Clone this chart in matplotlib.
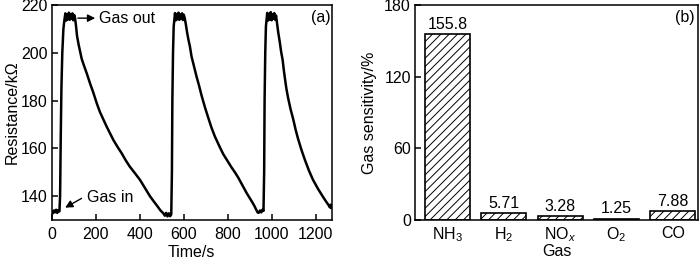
import matplotlib
matplotlib.use("Agg")
import matplotlib.pyplot as plt

plt.rcParams['font.family'] = ['Liberation Sans', 'DejaVu Sans']
plt.rcParams['mathtext.fontset'] = 'custom'
plt.rcParams['mathtext.rm'] = 'Liberation Sans'
plt.rcParams['mathtext.it'] = 'Liberation Sans:italic'
plt.rcParams['hatch.linewidth'] = 0.7
FS = 11.5
plt.rcParams['font.size'] = FS

# ---- panel (a): resistance response ----
time_s = [0, 5, 10, 15, 20, 25, 30, 35,
          38, 41, 44, 48, 53, 58,
          62, 66, 70, 74, 78, 82, 86, 90, 94, 98, 102, 106,
          110, 115, 122, 130, 136, 147, 159, 174, 189, 204, 219, 235, 250, 265,
          280, 299, 318, 336, 355, 378, 401, 423, 446, 465, 480, 494, 507,
          514, 520, 526, 532, 538, 543,
          546, 548, 551, 554, 557,
          560, 564, 568, 572, 576, 580, 584, 588, 592, 596, 600, 604,
          610, 615, 621, 628, 635, 646, 658, 670, 681, 696, 711, 726, 741, 760,
          779, 798, 817, 832, 847, 860, 873, 886, 898, 910, 920, 928, 935,
          940, 946, 952, 958, 962,
          965, 967, 970, 973, 976,
          979, 983, 987, 991, 995, 999, 1003, 1007, 1011, 1015, 1019,
          1024, 1029, 1036, 1042, 1049, 1054, 1059, 1066, 1074, 1085, 1097, 1108,
          1119, 1135, 1150, 1168, 1187, 1210, 1233, 1248, 1258, 1263, 1267, 1270, 1273]
resistance_kohm = [133.5, 132.8, 134.0, 133.2, 134.3, 133.0, 134.1, 133.6,
                   140, 165, 185, 200, 210, 214,
                   216.5, 213.5, 216, 214, 216.8, 213.8, 216.2, 214.2, 216.5, 213.6, 215.8, 214.5,
                   211.5, 207.0, 203.5, 200.0, 197.5, 194.5, 191.4, 187.2, 183.3, 179.0, 175.2, 172.0, 169.0, 166.2,
                   163.5, 160.6, 157.9, 155.0, 152.3, 149.6, 146.8, 143.5, 140.0, 137.6, 135.8, 134.0, 132.8,
                   131.8, 133.0, 131.5, 132.8, 131.6, 132.4,
                   150, 180, 200, 211, 214,
                   216.6, 213.6, 216.2, 214.0, 216.8, 213.8, 216.0, 214.3, 216.5, 213.7, 215.9, 214.6,
                   211.5, 208.5, 205.5, 202.5, 198.5, 194.5, 190.0, 186.0, 182.0, 177.2, 172.8, 168.6, 165.0, 161.2,
                   157.6, 154.8, 152.0, 150.0, 147.8, 145.6, 143.4, 141.2, 139.4, 137.6, 136.0, 134.5, 133.2,
                   133.0, 134.0, 133.2, 134.4, 133.8,
                   150, 180, 200, 211, 214,
                   216.7, 213.5, 216.3, 214.0, 217.0, 213.6, 216.2, 214.2, 216.6, 213.8, 215.6,
                   212.0, 208.5, 204.5, 200.5, 197.0, 193.0, 189.5, 185.0, 181.0, 176.4, 172.2, 167.8,
                   164.0, 159.2, 155.2, 150.8, 146.8, 143.0, 139.6, 137.5, 136.2, 135.3, 136.4, 135.0, 135.8]

# ---- panel (b): gas sensitivity ----
gases = ['NH$_3$', 'H$_2$', 'NO$_{\\it{x}}$', 'O$_2$', 'CO']
sensitivity = [155.8, 5.71, 3.28, 1.25, 7.88]
sens_labels = ['155.8', '5.71', '3.28', '1.25', '7.88']

fig = plt.figure(figsize=(7.0, 2.6), dpi=100)
ax1 = fig.add_axes([0.0739, 0.1538, 0.400, 0.827])
ax2 = fig.add_axes([0.5929, 0.1538, 0.4043, 0.827])

for ax in (ax1, ax2):
    for s in ax.spines.values():
        s.set_linewidth(1.1)
    ax.tick_params(direction='in', width=1.1, length=4, labelsize=FS, pad=3)

ax1.plot(time_s, resistance_kohm, color='black', lw=1.8)
ax1.set_xlim(0, 1272)
ax1.set_ylim(130, 220)
ax1.set_xticks([0, 200, 400, 600, 800, 1000, 1200])
ax1.set_yticks([140, 160, 180, 200, 220])
ax1.tick_params(axis='x', pad=5)
ax1.set_xlabel('Time/s', fontsize=FS, labelpad=2)
ax1.set_ylabel('Resistance/k\u03a9', fontsize=FS, labelpad=1)
ax1.text(0.96, 0.94, '(a)', transform=ax1.transAxes, ha='center', va='center', fontsize=FS)
ax1.annotate('', xy=(210, 214.5), xytext=(106, 214.5),
             arrowprops=dict(arrowstyle='-|>', color='black', lw=1.0, mutation_scale=11))
ax1.text(213, 214.5, 'Gas out', ha='left', va='center', fontsize=FS)
ax1.annotate('', xy=(50, 134.6), xytext=(146, 139.6),
             arrowprops=dict(arrowstyle='-|>', color='black', lw=1.0, mutation_scale=11))
ax1.text(158, 139.3, 'Gas in', ha='left', va='center', fontsize=FS)

x = list(range(len(gases)))
bars = ax2.bar(x, sensitivity, width=0.8, color='white', edgecolor='black',
               linewidth=1.2, hatch='////')
for xi, v, lab in zip(x, sensitivity, sens_labels):
    ax2.annotate(lab, xy=(xi, v), xytext=(0, 1.5), textcoords='offset points',
                 ha='center', va='bottom', fontsize=FS)
ax2.set_xlim(-0.576, 4.447)
ax2.set_ylim(0, 180)
ax2.set_yticks([0, 60, 120, 180])
ax2.set_xticks(x)
ax2.set_xticklabels(gases)
ax2.tick_params(axis='x', length=0, pad=4)
ax2.set_xlabel('Gas', fontsize=FS, labelpad=0)
ax2.set_ylabel('Gas sensitivity/%', fontsize=FS, labelpad=5)
ax2.text(0.954, 0.94, '(b)', transform=ax2.transAxes, ha='center', va='center', fontsize=FS)

fig.savefig('out.png', dpi=100)
